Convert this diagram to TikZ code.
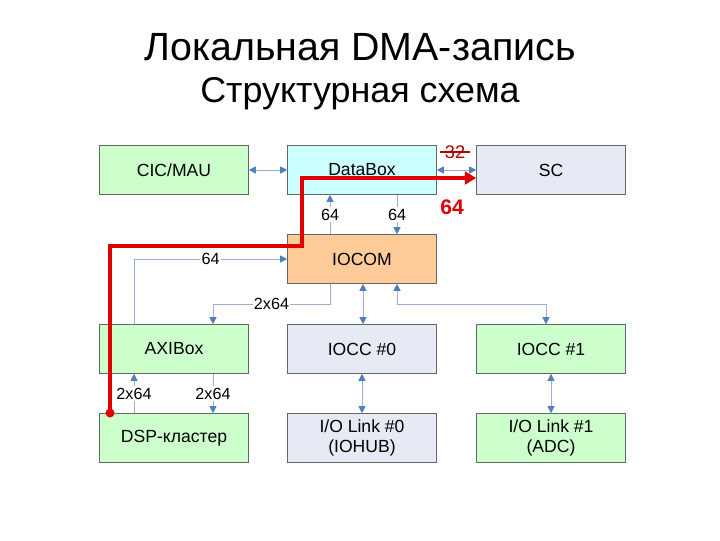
\documentclass[tikz,border=0pt]{standalone}
\usepackage{fontspec}
\setmainfont{Liberation Sans}
\usetikzlibrary{arrows.meta}
\definecolor{bgreen}{HTML}{CCFFCC}
\definecolor{bcyan}{HTML}{CCFFFF}
\definecolor{bgray}{HTML}{E6EAF5}
\definecolor{borange}{HTML}{FFCC99}
\definecolor{lnk}{HTML}{9BB0CF}
\definecolor{tipc}{HTML}{4F81BD}
\definecolor{redp}{HTML}{E00000}
\begin{document}
\begin{tikzpicture}
[x=0.025cm,y=-0.025cm,
 blk/.style={draw=gray!80!black,minimum width=3.725cm,minimum height=1.225cm,font=\fontsize{12.5}{14.5}\selectfont,align=center,inner sep=0pt},
 lk/.style={draw=lnk,line width=0.6pt,-{Triangle[width=5pt,length=5pt,color=tipc]}},
 blk2/.style={lk,{Triangle[width=5pt,length=5pt,color=tipc]}-{Triangle[width=5pt,length=5pt,color=tipc]}},
 lab/.style={fill=white,inner sep=1pt,font=\fontsize{11.5}{13}\selectfont},
]
\useasboundingbox (0,0) rectangle (720,540);
\node[font=\fontsize{28}{32}\selectfont] (title) at (360,47) {Локальная DMA-запись};
\node[font=\fontsize{25.5}{30}\selectfont] (sub) at (360,94) {Структурная схема};

\node[blk,fill=bgreen] (cic) at (174,170) {CIC/MAU};
\node[blk,fill=bcyan] (dbox) at (362,170) {DataBox};
\node[blk,fill=bgray] (sc) at (551,170) {SC};
\node[blk,fill=borange] (iocom) at (362,259) {IOCOM};
\node[blk,fill=bgreen] (axi) at (174,349) {AXIBox};
\node[blk,fill=bgray] (iocc0) at (362,349) {IOCC \#0};
\node[blk,fill=bgreen] (iocc1) at (551,349) {IOCC \#1};
\node[blk,fill=bgreen] (dsp) at (174,438) {DSP-кластер};
\node[blk,fill=bgray] (link0) at (362,438) {I/O Link \#0\\(IOHUB)};
\node[blk,fill=bgreen] (link1) at (551,438) {I/O Link \#1\\(ADC)};

\draw[blk2] (cic) -- (dbox);
\draw[blk2] (dbox) -- (sc);
\draw[lk] (iocom.north -| 330,0) -- node[lab] {64} (dbox.south -| 330,0);
\draw[lk] (dbox.south -| 397,0) -- node[lab] {64} (iocom.north -| 397,0);
\draw[lk] (axi.north -| 134,0) |- node[lab,pos=0.75] {64} (iocom.west);
\draw[lk] (iocom.south -| 330,0) |- node[lab,pos=0.75] {2x64} (213,304) -- (axi.north -| 213,0);
\draw[blk2] (iocom.south -| 363,0) -- (iocc0.north -| 363,0);
\draw[blk2] (iocc1.north -| 546,0) |- (397,304) -- (iocom.south -| 397,0);
\draw[lk] (dsp.north -| 134,0) -- node[lab] {2x64} (axi.south -| 134,0);
\draw[lk] (axi.south -| 213,0) -- node[lab] {2x64} (dsp.north -| 213,0);
\draw[blk2] (iocc0) -- (link0);
\draw[blk2] (iocc1) -- (link1);

% red path of the write
\coordinate (start) at (110,413);
\draw[redp,line width=2.5pt,-{Triangle[width=9pt,length=8pt]}] (start) |- (302,246) |- (sc.west |- 0,178);
\fill[redp] (start) circle (4.5);
\node[text=redp,font=\fontsize{15}{17}\selectfont\bfseries] (w64) at (452,207) {64};
\node[text=redp!80!black,font=\fontsize{13}{15}\selectfont] (w32) at (455,152) {32};
\draw[redp!80!black,line width=0.8pt] (w32.west) -- (w32.east);
\end{tikzpicture}
\end{document}
